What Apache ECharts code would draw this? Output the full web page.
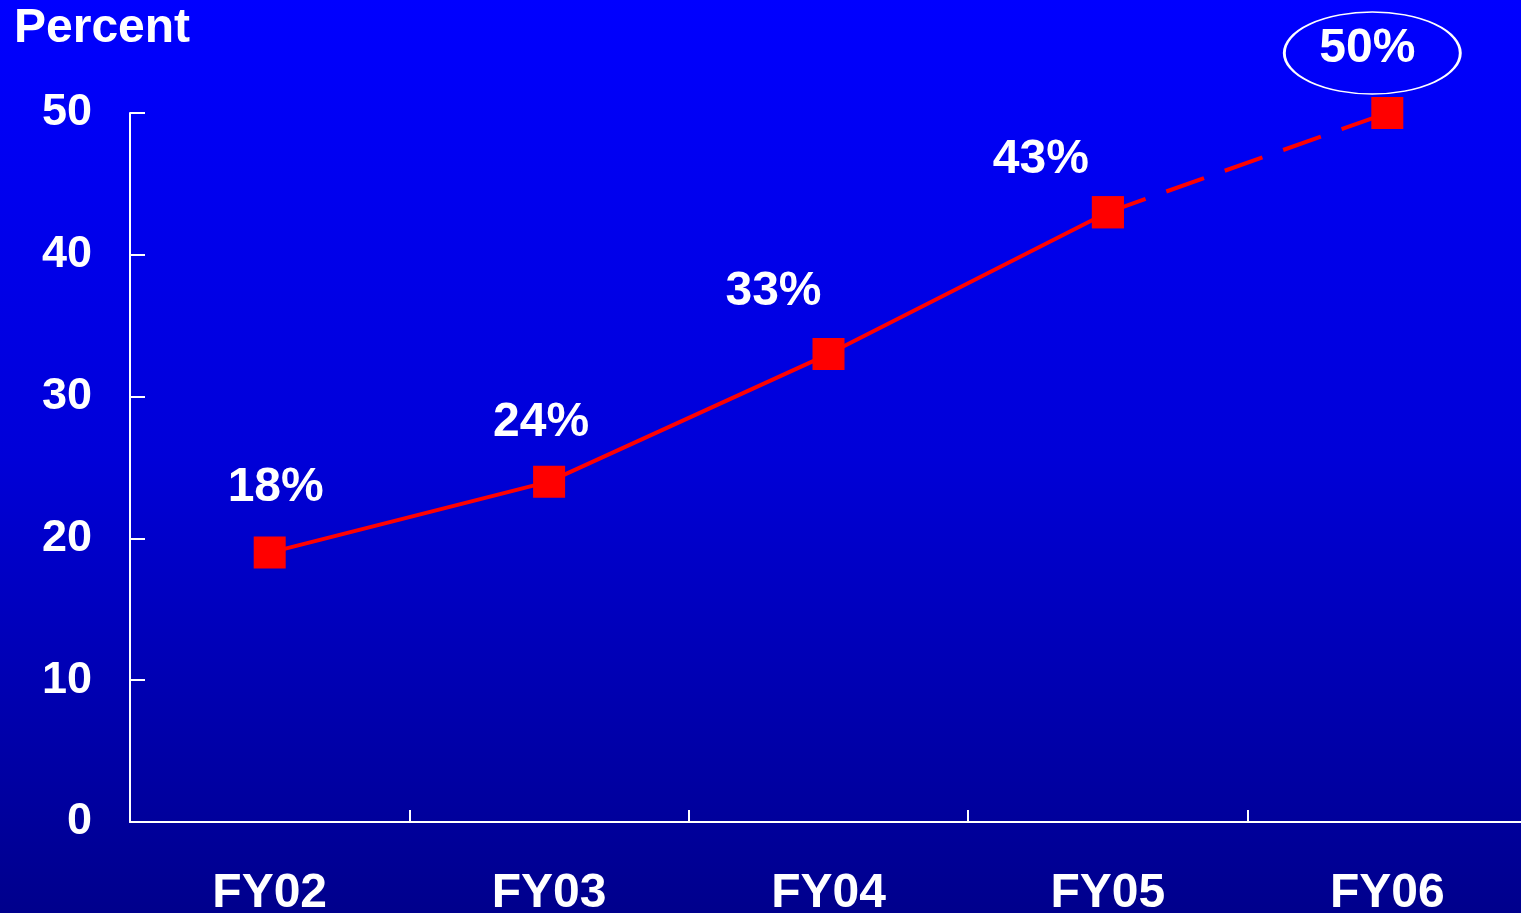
<!DOCTYPE html>
<html>
<head>
<meta charset="utf-8">
<script src="https://cdn.jsdelivr.net/npm/echarts@6/dist/echarts.min.js"></script>
<style>
html,body{margin:0;padding:0;width:100%;height:100%;overflow:hidden;}
#chart{width:1521px;height:913px;}
</style>
</head>
<body>
<div id="chart"></div>
<script>
const categories = ['FY02', 'FY03', 'FY04', 'FY05', 'FY06'];
const values = [19, 24, 33, 43, 50];
const pointLabels = ['18%', '24%', '33%', '43%', '50%'];
const yTicks = [0, 10, 20, 30, 40, 50];
const axisTitle = 'Percent';
const actualCount = 4; // FY02..FY05 solid, FY05..FY06 dashed (target)

const labelOffsets = [[6, -65], [-8, -59], [-55, -62], [-67, -52], [-20, -64]];

const solidData = values.map((v, i) => i < actualCount ? v : null);
const dashedData = values.map((v, i) => i >= actualCount - 1 ? v : null);

function labelItem(i) {
  return {
    show: true,
    position: 'inside',
    offset: labelOffsets[i],
    formatter: pointLabels[i],
    color: '#ffffff',
    fontFamily: 'Liberation Sans, Arial, sans-serif',
    fontWeight: 'bold',
    fontSize: 48
  };
}

const solidItems = solidData.map((v, i) => v === null ? null : { value: v, label: labelItem(i) });
const dashedItems = dashedData.map((v, i) => (v === null || i < actualCount) ? v : { value: v, label: labelItem(i) });

const chart = echarts.init(document.getElementById('chart'));
chart.setOption({
  backgroundColor: new echarts.graphic.LinearGradient(0, 0, 0, 1, [
    { offset: 0, color: '#0000ff' },
    { offset: 0.5, color: '#0000d8' },
    { offset: 1, color: '#00008c' }
  ]),
  animation: false,
  title: {
    text: axisTitle,
    left: 9,
    top: 0,
    textStyle: { color: '#ffffff', fontFamily: 'Liberation Sans, Arial, sans-serif', fontWeight: 'bold', fontSize: 48 }
  },
  grid: { left: 130, top: 113, bottom: 91, width: 1397, outerBoundsMode: 'none', containLabel: false },
  xAxis: {
    type: 'category',
    data: categories,
    boundaryGap: true,
    axisLine: { lineStyle: { color: '#ffffff', width: 2 } },
    axisTick: { show: true, inside: true, length: 12, alignWithLabel: false, lineStyle: { color: '#ffffff', width: 2 } },
    axisLabel: { color: '#ffffff', fontFamily: 'Liberation Sans, Arial, sans-serif', fontWeight: 'bold', fontSize: 48, margin: 48 },
    splitLine: { show: false }
  },
  yAxis: {
    type: 'value',
    min: yTicks[0],
    max: yTicks[yTicks.length - 1],
    interval: yTicks[1] - yTicks[0],
    axisLine: { show: true, lineStyle: { color: '#ffffff', width: 2 } },
    axisTick: { show: true, inside: true, length: 15, lineStyle: { color: '#ffffff', width: 2 } },
    axisLabel: { color: '#ffffff', fontFamily: 'Liberation Sans, Arial, sans-serif', fontWeight: 'bold', fontSize: 45, margin: 38 },
    splitLine: { show: false }
  },
  series: [
    {
      type: 'line',
      data: dashedItems,
      symbol: 'rect',
      symbolSize: 32,
      showAllSymbol: true,
      lineStyle: { color: '#ff0000', width: 4, type: [40, 22] },
      itemStyle: { color: '#ff0000' },
      label: { show: false },
      markPoint: {
        symbol: 'circle',
        symbolSize: [176, 82],
        symbolOffset: [-15, -60],
        silent: true,
        itemStyle: { color: 'rgba(0,0,0,0)', borderColor: '#ffffff', borderWidth: 2 },
        label: { show: false },
        data: [{ coord: [categories[4], values[4]] }]
      },
      z: 2
    },
    {
      type: 'line',
      data: solidItems,
      symbol: 'rect',
      symbolSize: 32,
      showAllSymbol: true,
      lineStyle: { color: '#ff0000', width: 4 },
      itemStyle: { color: '#ff0000' },
      z: 3
    }
  ]
});
</script>
</body>
</html>
